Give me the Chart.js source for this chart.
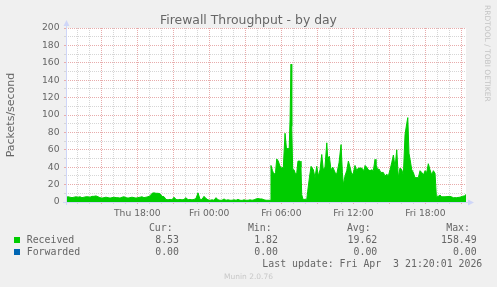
<!DOCTYPE html>
<html><head><meta charset="utf-8">
<script src="https://cdn.jsdelivr.net/npm/chart.js@4/dist/chart.umd.min.js"></script>
<style>html,body{margin:0;padding:0;background:#F0F0F0;overflow:hidden}canvas{display:block}</style>
</head><body>
<canvas id="c" width="497" height="287"></canvas>
<script>
const chartTitle = 'Firewall Throughput - by day';
const yAxisTitle = 'Packets/second';
const seriesNames = ['Received', 'Forwarded'];
const seriesColors = ['#00CC00', '#0066B3'];
// time axis in hours since Thu 00:00
const xMin = 12.06, xMax = 45.39;
const xLabelHours = [18, 24, 30, 36, 42];
const xLabels = ['Thu 18:00', 'Fri 00:00', 'Fri 06:00', 'Fri 12:00', 'Fri 18:00'];
const yTickLabels = [0, 20, 40, 60, 80, 100, 120, 140, 160, 180, 200];

const times = [
  12.06,12.23,12.39,12.56,12.73,12.89, 13.06,13.23,13.39,13.56,13.73,13.89,
  14.06,14.23,14.39,14.56,14.73,14.89, 15.06,15.23,15.39,15.56,15.73,15.89,
  16.06,16.23,16.39,16.56,16.73,16.89, 17.06,17.23,17.39,17.56,17.73,17.89,
  18.06,18.23,18.39,18.56,18.73,18.89, 19.06,19.23,19.39,19.56,19.73,19.89,
  20.06,20.23,20.39,20.56,20.73,20.89, 21.06,21.23,21.39,21.56,21.73,21.89,
  22.06,22.23,22.39,22.56,22.73,22.89, 23.06,23.23,23.39,23.56,23.73,23.89,
  24.06,24.23,24.39,24.56,24.73,24.89, 25.06,25.23,25.39,25.56,25.73,25.89,
  26.06,26.23,26.39,26.56,26.73,26.89, 27.06,27.23,27.39,27.56,27.73,27.89,
  28.06,28.23,28.39,28.56,28.73,28.89, 29.06,
  29.14,29.27,29.39,29.52,29.62,29.75,29.89,30.04,30.17,30.31,30.44,30.56,30.64,30.73,30.81,30.87,30.95,
  31.06,31.2,31.29,31.39,31.56,31.64,31.7,31.81,31.98,32.12,32.2,32.34,32.48,32.67,32.81,32.95,
  33.09,33.23,33.37,33.5,33.64,33.79,33.87,34.0,34.14,34.29,34.48,34.62,34.81,34.98,
  35.09,35.17,35.31,35.45,35.59,35.73,35.87,36.0,36.14,36.29,36.42,36.7,36.89,36.98,
  37.12,37.25,37.39,37.54,37.67,37.81,37.89,38.04,38.14,38.29,38.5,38.64,38.79,38.92,
  39.06,39.2,39.34,39.48,39.62,39.75,39.89,40.04,40.17,40.31,40.45,40.54,40.64,40.73,40.87,
  41.0,41.14,41.42,41.56,41.7,41.84,41.98,42.12,42.25,42.39,42.54,42.67,42.81,42.92,
  43.09,43.23,43.37,43.64,44.06,44.34,44.62,44.89,45.09,45.25,45.39
];
const received = [
  5.5,6,5.5,5,5.5,6, 5.5,6,5,5.5,6,6, 5.5,6.5,
  6.5,7,6,
  5,4.5,5,5.5,5,4.5,5,5.5,5,5,4.5,5.5,6,5,4.5,5,5.5,5,4.5,5,5.5,6,5,5.5,6,
  7, 10,10.5,10,10,9.5, 6.5, 6,
  3,2.5,3,2.5, 5.5, 3,2.5,3,2.5,3, 5, 2.5,3,2.5,3, 4, 10.5, 3, 3, 6.5, 4, 2.5,
  2,2.5,2, 5, 2.5,2,2, 3.5,
  2,2.5,2,2,2.5,2,3,2,1.82,2.5,2,2,2.5,2,2.5,
  3.5,4,3.5,3.5, 2.5, 2, 2, 2,
  42,36,31.5,34,49.5,47,41,39,40,79,60,62,52.5,95,158.49,87,37,
  37,31.5,34,47,47,40,8.6,3,3,3,12.4,27.8,41,37,28,41,
  30,37,54.6,37,40,68,50,52.6,37,40,34,32,45,66,
  34,20,30,36,47,40,31.6,33,42,36,39,39,36,42,
  40,37,36,37,36,49,43,37,38,34,34,30,32,30,
  37,45,54,40,60,28,39,37,31,77.6,90,97,56,49,37,
  34,28,28,36,34,31,36,34,44,37,31,36,33,6.7,
  6.7,8,6,6,6.5,5,5,5.5,6.5,7,8.53
];
const forwardedTimes = [12.06, 45.39];
const forwarded = [0, 0];

const statHeaders = ['Cur:', 'Min:', 'Avg:', 'Max:'];
const receivedStats = ['8.53', '1.82', '19.62', '158.49'];
const forwardedStats = ['0.00', '0.00', '0.00', '0.00'];
const lastUpdate = 'Last update: Fri Apr  3 21:20:01 2026';
const versionText = 'Munin 2.0.76';
const watermark = 'RRDTOOL / TOBI OETIKER';

const FONT = '#666666';
const GRID = '#d6d6d6';
const MGRID = '#e8acac';
const AXIS = '#CFD6F8';

const decor = {
  id: 'decor',
  beforeDraw(chart) {
    const {ctx, chartArea: a} = chart;
    ctx.save();
    ctx.fillStyle = '#F0F0F0';
    ctx.fillRect(0, 0, chart.width, chart.height);
    ctx.fillStyle = '#FFFFFF';
    ctx.fillRect(a.left, a.top, a.right - a.left, a.bottom - a.top);
    ctx.restore();
  },
  afterDatasetsDraw(chart) {
    const {ctx, chartArea: a} = chart;
    const x0 = a.left + 0.5, y0 = a.bottom + 0.5;
    ctx.save();
    ctx.strokeStyle = AXIS; ctx.fillStyle = AXIS; ctx.lineWidth = 1;
    ctx.beginPath();
    ctx.moveTo(x0, a.bottom + 3); ctx.lineTo(x0, a.top - 4);
    ctx.moveTo(a.left - 3, y0); ctx.lineTo(a.right + 3, y0);
    ctx.stroke();
    ctx.beginPath();
    ctx.moveTo(x0, a.top - 8); ctx.lineTo(x0 - 3, a.top - 2); ctx.lineTo(x0 + 3, a.top - 2); ctx.closePath();
    ctx.fill();
    ctx.beginPath();
    ctx.moveTo(a.right + 8, y0); ctx.lineTo(a.right + 2, y0 - 3); ctx.lineTo(a.right + 2, y0 + 3); ctx.closePath();
    ctx.fill();
    ctx.restore();
  },
  afterDraw(chart) {
    const {ctx} = chart;
    ctx.save();
    ctx.fillStyle = FONT;
    ctx.textBaseline = 'alphabetic';
    ctx.font = '12.4px "DejaVu Sans"';
    ctx.textAlign = 'center';
    ctx.fillText(chartTitle, 248.5, 24);

    ctx.font = '9.9px "DejaVu Sans Mono"';
    ctx.textAlign = 'right';
    const hdrX = [172.7, 271.7, 370.7, 470];
    const valX = [179, 278, 377.3, 476.7];
    statHeaders.forEach((h, i) => ctx.fillText(h, hdrX[i], 230.5));
    receivedStats.forEach((v, i) => ctx.fillText(v, valX[i], 243.3));
    forwardedStats.forEach((v, i) => ctx.fillText(v, valX[i], 255.3));
    ctx.fillText(lastUpdate, 482.3, 266.8);
    ctx.textAlign = 'left';
    ctx.fillText(seriesNames[0], 26.7, 243.3);
    ctx.fillText(seriesNames[1], 26.7, 255.3);
    ctx.fillStyle = seriesColors[0];
    ctx.fillRect(14, 237, 6, 6);
    ctx.fillStyle = seriesColors[1];
    ctx.fillRect(14, 249, 6, 6);

    ctx.fillStyle = '#c8c8c8';
    ctx.font = '7.5px "DejaVu Sans"';
    ctx.textAlign = 'center';
    ctx.fillText(versionText, 248.5, 279);

    ctx.translate(485, 5);
    ctx.rotate(Math.PI / 2);
    ctx.textAlign = 'left';
    ctx.textBaseline = 'alphabetic';
    ctx.fillStyle = '#c4c4c4';
    ctx.fillText(watermark, 0, 0);
    ctx.restore();
  }
};

new Chart(document.getElementById('c'), {
  type: 'line',
  data: {
    datasets: [
      { label: seriesNames[0], data: times.map((t, i) => ({x: t, y: received[i]})),
        borderColor: seriesColors[0], backgroundColor: seriesColors[0], fill: 'origin',
        borderWidth: 1, pointRadius: 0, tension: 0 },
      { label: seriesNames[1], data: forwardedTimes.map((t, i) => ({x: t, y: forwarded[i]})),
        borderColor: seriesColors[1], backgroundColor: seriesColors[1], fill: 'origin',
        borderWidth: 0, pointRadius: 0, tension: 0 }
    ]
  },
  options: {
    responsive: false, animation: false, devicePixelRatio: 1,
    layout: { padding: { left: 0, top: 28, right: 31, bottom: 65 } },
    plugins: { legend: { display: false }, tooltip: { enabled: false }, title: { display: false } },
    scales: {
      x: {
        type: 'linear', min: xMin, max: xMax,
        afterFit(s) { s.height = 20; },
        ticks: {
          stepSize: 1, autoSkip: false, maxRotation: 0, minRotation: 0, includeBounds: false,
          padding: 3.8, color: FONT, font: { family: 'DejaVu Sans', size: 9.2 },
          callback: v => { const i = xLabelHours.indexOf(v); return i >= 0 ? xLabels[i] : ''; }
        },
        grid: { color: c => (c.tick && c.tick.value % 3 === 0) ? MGRID : GRID, lineWidth: 1, tickLength: 2 },
        border: { display: false, dash: [1, 1] }
      },
      y: {
        min: 0, max: 200,
        afterFit(s) { s.width = 66; },
        ticks: {
          stepSize: 10, autoSkip: false, padding: 4.5, color: FONT,
          font: { family: 'DejaVu Sans', size: 9.2 },
          callback: v => yTickLabels.includes(v) ? String(v) : ''
        },
        grid: { color: c => (c.tick && c.tick.value % 20 === 0) ? MGRID : GRID, lineWidth: 1, tickLength: 2 },
        border: { display: false, dash: [1, 1] },
        title: { display: true, text: yAxisTitle, color: FONT, font: { family: 'DejaVu Sans', size: 11 }, padding: { top: 4.5, bottom: 0 } }
      }
    }
  },
  plugins: [decor]
});
</script>
</body></html>
